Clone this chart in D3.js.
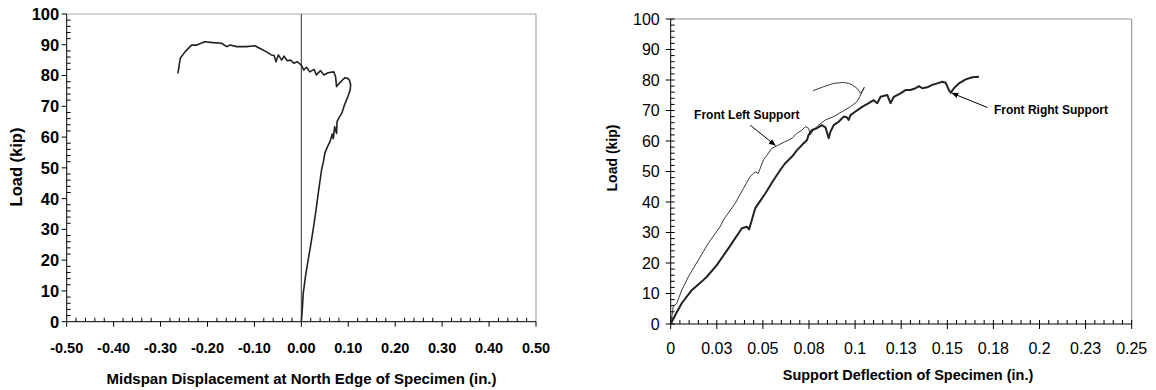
<!DOCTYPE html>
<html>
<head>
<meta charset="utf-8">
<script src="https://cdn.jsdelivr.net/npm/d3@7"></script>
<style>
  html, body { margin: 0; padding: 0; background: #fff; }
  svg { display: block; font-family: "Liberation Sans", Arial, sans-serif; }
</style>
</head>
<body>
<svg id="chart" width="1156" height="390"></svg>
<script>
// ---- Midspan displacement test (left panel) ----
const midDisp = [0, 0.002, 0.004, 0.009, 0.0145, 0.02, 0.025, 0.031, 0.036, 0.043, 0.047, 0.05, 0.056, 0.061, 0.066, 0.068, 0.071, 0.075, 0.076, 0.081, 0.086, 0.091, 0.096, 0.1, 0.104, 0.105, 0.103, 0.1, 0.093, 0.086, 0.079, 0.075, 0.073, 0.069, 0.057, 0.048, 0.041, 0.032, 0.027, 0.018, 0.011, 0.005, 0.0, -0.009, -0.016, -0.023, -0.03, -0.037, -0.042, -0.049, -0.054, -0.058, -0.064, -0.074, -0.088, -0.099, -0.117, -0.138, -0.152, -0.159, -0.17, -0.188, -0.206, -0.223, -0.234, -0.248, -0.258, -0.263];
const midLoad = [0, 4, 9.2, 15, 20, 25, 29.8, 36, 41.7, 49.3, 52, 54.7, 57, 58.5, 61, 59.5, 63.4, 61.2, 65, 66.5, 67.7, 70, 72, 73.5, 75.3, 77, 78.3, 79, 79.3, 78.3, 77.2, 76.4, 79.5, 81.2, 80.9, 80.2, 81.6, 80.2, 82, 81.2, 82.7, 81.8, 83.4, 84.5, 84, 85, 84.8, 86.3, 85, 86.7, 84.5, 86.5, 86.7, 87.7, 88.8, 89.7, 89.4, 89.4, 89.9, 89.4, 90.5, 90.7, 91, 89.9, 89.9, 87.7, 85.6, 80.7];

// ---- Support deflection (right panel) ----
const leftSupDefl = [0, 0.0014, 0.0033, 0.006, 0.0096, 0.015, 0.0204, 0.0268, 0.0286, 0.035, 0.0395, 0.043, 0.0458, 0.0475, 0.0503, 0.0549, 0.0585, 0.0621, 0.0658, 0.0685, 0.0712, 0.073, 0.0748, 0.0757, 0.0775, 0.0802, 0.0839, 0.0884, 0.0929, 0.0974, 0.101, 0.1025, 0.104, 0.105, 0.103, 0.101, 0.0984, 0.0965, 0.0938, 0.0884, 0.0829, 0.0772];
const leftSupLoad = [0, 5.7, 6.8, 11.1, 15.5, 21, 26.5, 31.9, 34.1, 39.6, 44.5, 48.3, 49.9, 49.4, 53.8, 57.6, 58.7, 59.8, 60.9, 62.5, 63.6, 64.7, 64.2, 62, 63.6, 65.2, 66.9, 68, 69.6, 71.2, 72.9, 74.5, 76.3, 77.6, 75.6, 77.3, 78.4, 78.9, 79.2, 78.9, 77.8, 76.5];

const rightSupDefl = [0, 0.003, 0.006, 0.0114, 0.0168, 0.0196, 0.025, 0.0313, 0.0386, 0.0413, 0.0425, 0.0458, 0.0513, 0.0558, 0.0594, 0.0621, 0.0658, 0.0685, 0.0703, 0.072, 0.0739, 0.0748, 0.0766, 0.0793, 0.082, 0.0839, 0.0857, 0.0866, 0.0884, 0.0911, 0.0938, 0.0955, 0.0965, 0.0975, 0.1, 0.1038, 0.1074, 0.1101, 0.112, 0.1138, 0.1174, 0.1192, 0.121, 0.1246, 0.1273, 0.13, 0.1328, 0.1346, 0.1364, 0.1391, 0.1418, 0.1446, 0.1473, 0.1491, 0.1509, 0.1518, 0.1536, 0.1563, 0.16, 0.1636, 0.1672];
const rightSupLoad = [0, 3.5, 6.8, 11.1, 13.9, 15.5, 19.3, 24.8, 31.4, 31.9, 31, 37.9, 42.8, 47.2, 50.5, 52.7, 54.9, 57, 58.1, 59.2, 60.3, 62, 63.6, 64.2, 65.2, 64.5, 60.9, 63, 65.2, 66.3, 68, 67.8, 66.9, 68.5, 69.6, 71.2, 72.4, 73.4, 72.4, 74.5, 75.1, 72.4, 74.5, 75.6, 76.7, 76.7, 77.3, 78, 77.3, 77.6, 78.4, 78.9, 79.4, 79.1, 76.7, 75.8, 77.3, 78.9, 80.2, 80.9, 81.1];

// ---- Axis ticks ----
const loadTicks = [0, 10, 20, 30, 40, 50, 60, 70, 80, 90, 100];
const midTicks = [-0.5, -0.4, -0.3, -0.2, -0.1, 0, 0.1, 0.2, 0.3, 0.4, 0.5];
const midTickLabels = ["-0.50", "-0.40", "-0.30", "-0.20", "-0.10", "0.00", "0.10", "0.20", "0.30", "0.40", "0.50"];
const suppTicks = [0, 0.025, 0.05, 0.075, 0.1, 0.125, 0.15, 0.175, 0.2, 0.225, 0.25];
const suppTickLabels = ["0", "0.03", "0.05", "0.08", "0.1", "0.13", "0.15", "0.18", "0.2", "0.23", "0.25"];

const svg = d3.select("#chart");
const lineCol = "#222";

function zip(xs, ys) { return xs.map((x, i) => [x, ys[i]]); }

// draws frame, ticks and labels for one panel
function panel(opt) {
  const g = svg.append("g");
  const x = d3.scaleLinear().domain(opt.xDomain).range([opt.left, opt.right]);
  const y = d3.scaleLinear().domain([0, 100]).range([opt.bottom, opt.top]);

  // grey top & right frame
  g.append("line").attr("x1", opt.left).attr("x2", opt.right).attr("y1", opt.top).attr("y2", opt.top)
    .attr("stroke", opt.frame).attr("stroke-width", 1.2);
  g.append("line").attr("x1", opt.right).attr("x2", opt.right).attr("y1", opt.top).attr("y2", opt.bottom)
    .attr("stroke", opt.frame).attr("stroke-width", 1.2);

  // y axis: majors outward, minors inward
  const yMinor = d3.range(0, 100.001, 2).filter(v => v % 10 !== 0);
  const yAx = g.append("g").attr("transform", `translate(${opt.left},0)`);
  yAx.append("line").attr("y1", opt.top).attr("y2", opt.bottom).attr("stroke", "#000");
  yAx.selectAll("line.maj").data(loadTicks).join("line").attr("class", "maj")
    .attr("x1", -5).attr("x2", opt.majIn).attr("y1", d => y(d)).attr("y2", d => y(d)).attr("stroke", "#000");
  yAx.selectAll("line.min").data(yMinor).join("line").attr("class", "min")
    .attr("x1", 0).attr("x2", 4).attr("y1", d => y(d)).attr("y2", d => y(d)).attr("stroke", "#000");
  yAx.selectAll("text").data(loadTicks).join("text")
    .attr("x", opt.yLabelDx).attr("y", d => y(d)).attr("dy", "0.36em")
    .attr("text-anchor", "end").attr("font-size", opt.yTickSize).attr("font-weight", opt.tickWeight)
    .attr("fill", "#000").text(d => d);

  // x axis
  const step = (opt.xDomain[1] - opt.xDomain[0]) / 50;
  const xMinor = d3.range(51).map(i => opt.xDomain[0] + i * step).filter((v, i) => i % 5 !== 0);
  const xAx = g.append("g").attr("transform", `translate(0,${opt.bottom})`);
  xAx.append("line").attr("x1", opt.left).attr("x2", opt.right).attr("stroke", "#000");
  xAx.selectAll("line.maj").data(opt.xTicks).join("line").attr("class", "maj")
    .attr("x1", d => x(d)).attr("x2", d => x(d)).attr("y1", -opt.majIn).attr("y2", 5).attr("stroke", "#000");
  xAx.selectAll("line.min").data(xMinor).join("line").attr("class", "min")
    .attr("x1", d => x(d)).attr("x2", d => x(d)).attr("y1", -4).attr("y2", 0).attr("stroke", "#000");
  xAx.selectAll("text").data(opt.xTicks).join("text")
    .attr("x", d => x(d)).attr("y", opt.xLabelDy)
    .attr("text-anchor", "middle").attr("font-size", opt.xTickSize).attr("font-weight", opt.tickWeight)
    .attr("fill", "#000").text((d, i) => opt.xTickLabels[i]);

  // titles
  g.append("text").attr("x", opt.xTitle[0]).attr("y", opt.xTitle[1]).attr("text-anchor", "middle")
    .attr("font-size", opt.xTitleSize).attr("font-weight", "bold").text(opt.xTitleText);
  g.append("text").attr("transform", `translate(${opt.yTitle[0]},${opt.yTitle[1]}) rotate(-90)`)
    .attr("text-anchor", "middle").attr("dy", "0.36em")
    .attr("font-size", opt.yTitleSize).attr("font-weight", "bold").text("Load (kip)");

  return { g, x, y };
}

// ---- left panel ----
const L = panel({
  left: 66.7, right: 536, top: 14, bottom: 321.7,
  xDomain: [-0.5, 0.5], xTicks: midTicks, xTickLabels: midTickLabels,
  frame: "#a8a8a8", majIn: 0,
  yTickSize: 16.5, xTickSize: 14.5, tickWeight: "bold", yLabelDx: -7.5, xLabelDy: 31.5,
  xTitle: [301.5, 384], xTitleSize: 15, xTitleText: "Midspan Displacement at North Edge of Specimen (in.)",
  yTitle: [16, 167], yTitleSize: 16.5
});
// zero reference line
L.g.append("line").attr("x1", L.x(0)).attr("x2", L.x(0)).attr("y1", L.y(100)).attr("y2", L.y(0))
  .attr("stroke", "#555").attr("stroke-width", 1.2);
L.g.append("path").datum(zip(midDisp, midLoad))
  .attr("fill", "none").attr("stroke", lineCol).attr("stroke-width", 1.6).attr("stroke-linejoin", "round")
  .attr("d", d3.line().x(d => L.x(d[0])).y(d => L.y(d[1])));

// ---- right panel ----
const R = panel({
  left: 670.7, right: 1131.7, top: 19, bottom: 324,
  xDomain: [0, 0.25], xTicks: suppTicks, xTickLabels: suppTickLabels,
  frame: "#999", majIn: 4,
  yTickSize: 16, xTickSize: 16, tickWeight: "normal", yLabelDx: -11, xLabelDy: 30,
  xTitle: [908, 380], xTitleSize: 14.5, xTitleText: "Support Deflection of Specimen (in.)",
  yTitle: [612, 158], yTitleSize: 14
});
const rLine = d3.line().x(d => R.x(d[0])).y(d => R.y(d[1]));
R.g.append("path").datum(zip(leftSupDefl, leftSupLoad))
  .attr("fill", "none").attr("stroke", lineCol).attr("stroke-width", 0.9).attr("stroke-linejoin", "round").attr("d", rLine);
R.g.append("path").datum(zip(rightSupDefl, rightSupLoad))
  .attr("fill", "none").attr("stroke", lineCol).attr("stroke-width", 2).attr("stroke-linejoin", "round").attr("d", rLine);

// callouts
svg.append("defs").append("marker").attr("id", "arrow")
  .attr("viewBox", "0 0 10 10").attr("refX", 9).attr("refY", 5)
  .attr("markerWidth", 7).attr("markerHeight", 7).attr("orient", "auto")
  .append("path").attr("d", "M0,1 L10,5 L0,9 Z").attr("fill", "#000");

const callouts = [
  { text: "Front Left Support", tx: 0.0127, ty: 68.6, from: [0.0431, 65.2], to: [0.0567, 58.6] },
  { text: "Front Right Support", tx: 0.1753, ty: 70.3, from: [0.1717, 71.0], to: [0.1525, 75.7] }
];
callouts.forEach(c => {
  R.g.append("line")
    .attr("x1", R.x(c.from[0])).attr("y1", R.y(c.from[1]))
    .attr("x2", R.x(c.to[0])).attr("y2", R.y(c.to[1]))
    .attr("stroke", "#000").attr("stroke-width", 1).attr("marker-end", "url(#arrow)");
  R.g.append("text").attr("x", R.x(c.tx)).attr("y", R.y(c.ty)).attr("dy", "0.36em")
    .attr("font-size", 12).attr("font-weight", "bold").text(c.text);
});
</script>
</body>
</html>
